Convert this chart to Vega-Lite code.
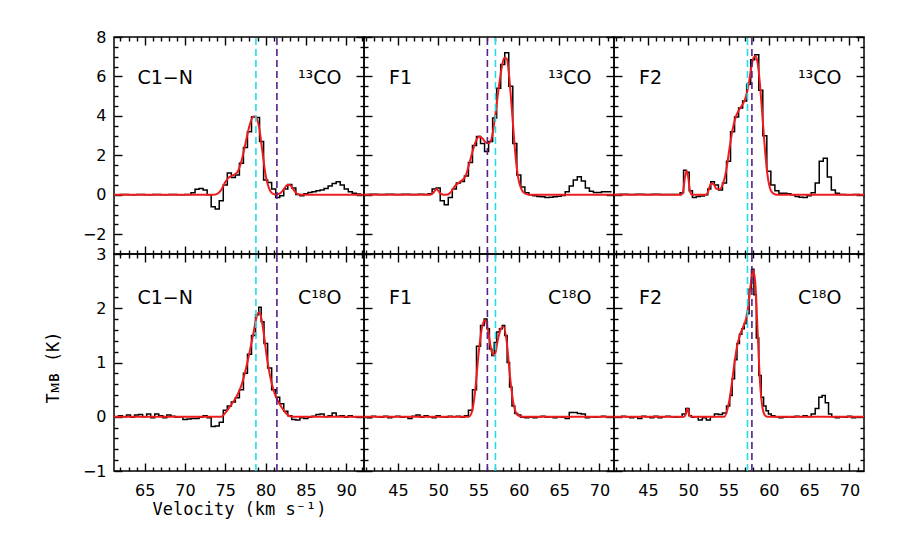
{
"$schema": "https://vega.github.io/schema/vega-lite/v6.json",
"background": "white",
"padding": {"left": 43, "top": 28, "right": 5, "bottom": 5},
"config": {
  "view": {"stroke": "black", "strokeWidth": 1.5},
  "font": "DejaVu Sans",
  "axis": {"domain": false, "grid": false, "tickColor": "black", "tickWidth": 1.4, "labelColor": "black", "labelFont": "DejaVu Sans", "labelFontSize": 16, "titleFont": "DejaVu Sans Mono", "titleFontSize": 17, "titleFontWeight": "normal", "titleColor": "black"}
},
"datasets": {
"obs": [
{"p":1,"v":61.5,"t":0.0},{"p":1,"v":62.5,"t":0.02},{"p":1,"v":63.5,"t":0.0},{"p":1,"v":64.5,"t":0.02},{"p":1,"v":65.5,"t":0.0},{"p":1,"v":66.5,"t":0.01},{"p":1,"v":67.5,"t":0.0},{"p":1,"v":68.5,"t":0.02},{"p":1,"v":69.5,"t":0.0},{"p":1,"v":70.5,"t":0.02},{"p":1,"v":71,"t":0.1},{"p":1,"v":71.5,"t":0.28},{"p":1,"v":72,"t":0.32},{"p":1,"v":72.5,"t":0.25},{"p":1,"v":73,"t":0.0},{"p":1,"v":73.5,"t":-0.6},{"p":1,"v":74,"t":-0.72},{"p":1,"v":74.5,"t":-0.3},{"p":1,"v":75,"t":0.5},{"p":1,"v":75.5,"t":1.1},{"p":1,"v":76,"t":0.88},{"p":1,"v":76.5,"t":1.0},{"p":1,"v":77,"t":1.6},{"p":1,"v":77.5,"t":2.4},{"p":1,"v":78,"t":3.2},{"p":1,"v":78.5,"t":3.95},{"p":1,"v":79,"t":3.92},{"p":1,"v":79.5,"t":2.7},{"p":1,"v":80,"t":0.75},{"p":1,"v":80.5,"t":0.62},{"p":1,"v":81,"t":0.3},{"p":1,"v":81.5,"t":-0.14},{"p":1,"v":82,"t":-0.05},{"p":1,"v":82.5,"t":0.3},{"p":1,"v":83,"t":0.52},{"p":1,"v":83.5,"t":0.35},{"p":1,"v":84,"t":0.02},{"p":1,"v":84.5,"t":-0.05},{"p":1,"v":85,"t":0.05},{"p":1,"v":85.5,"t":0.12},{"p":1,"v":86,"t":0.15},{"p":1,"v":86.5,"t":0.2},{"p":1,"v":87,"t":0.25},{"p":1,"v":87.5,"t":0.32},{"p":1,"v":88,"t":0.45},{"p":1,"v":88.5,"t":0.58},{"p":1,"v":89,"t":0.66},{"p":1,"v":89.5,"t":0.5},{"p":1,"v":90,"t":0.3},{"p":1,"v":90.5,"t":0.15},{"p":1,"v":91,"t":0.08},{"p":1,"v":91.5,"t":0.04},{"p":1,"v":92,"t":0.0},
{"p":2,"v":41,"t":0.02},{"p":2,"v":42,"t":0.03},{"p":2,"v":43,"t":0.02},{"p":2,"v":44,"t":0.03},{"p":2,"v":45,"t":0.02},{"p":2,"v":46,"t":0.03},{"p":2,"v":47,"t":0.02},{"p":2,"v":48,"t":0.03},{"p":2,"v":48.5,"t":0.02},{"p":2,"v":49,"t":0.05},{"p":2,"v":49.5,"t":0.3},{"p":2,"v":50,"t":0.35},{"p":2,"v":50.5,"t":-0.3},{"p":2,"v":51,"t":-0.5},{"p":2,"v":51.5,"t":-0.13},{"p":2,"v":52,"t":0.29},{"p":2,"v":52.5,"t":0.6},{"p":2,"v":53,"t":0.68},{"p":2,"v":53.5,"t":0.96},{"p":2,"v":54,"t":1.64},{"p":2,"v":54.5,"t":2.5},{"p":2,"v":55,"t":2.96},{"p":2,"v":55.5,"t":2.6},{"p":2,"v":56,"t":2.2},{"p":2,"v":56.5,"t":2.7},{"p":2,"v":57,"t":3.9},{"p":2,"v":57.5,"t":5.4},{"p":2,"v":58,"t":6.6},{"p":2,"v":58.5,"t":7.2},{"p":2,"v":59,"t":5.5},{"p":2,"v":59.5,"t":2.6},{"p":2,"v":60,"t":1.0},{"p":2,"v":60.5,"t":0.4},{"p":2,"v":61,"t":0.1},{"p":2,"v":61.5,"t":0.0},{"p":2,"v":62,"t":-0.05},{"p":2,"v":62.5,"t":-0.08},{"p":2,"v":63,"t":-0.1},{"p":2,"v":63.5,"t":-0.13},{"p":2,"v":64,"t":-0.12},{"p":2,"v":64.5,"t":-0.1},{"p":2,"v":65,"t":-0.07},{"p":2,"v":65.5,"t":-0.03},{"p":2,"v":66,"t":0.15},{"p":2,"v":66.5,"t":0.45},{"p":2,"v":67,"t":0.75},{"p":2,"v":67.5,"t":0.92},{"p":2,"v":68,"t":0.7},{"p":2,"v":68.5,"t":0.35},{"p":2,"v":69,"t":0.18},{"p":2,"v":69.5,"t":0.12},{"p":2,"v":70,"t":0.12},{"p":2,"v":70.5,"t":0.15},{"p":2,"v":71,"t":0.16},{"p":2,"v":71.5,"t":0.15},
{"p":3,"v":41,"t":0.02},{"p":3,"v":42,"t":0.03},{"p":3,"v":43,"t":0.02},{"p":3,"v":44,"t":0.03},{"p":3,"v":45,"t":0.02},{"p":3,"v":46,"t":0.03},{"p":3,"v":47,"t":0.02},{"p":3,"v":48,"t":0.02},{"p":3,"v":48.75,"t":0.02},{"p":3,"v":49.25,"t":0.1},{"p":3,"v":49.6,"t":1.25},{"p":3,"v":49.95,"t":1.15},{"p":3,"v":50.3,"t":0.2},{"p":3,"v":50.75,"t":-0.13},{"p":3,"v":51.25,"t":-0.08},{"p":3,"v":51.75,"t":-0.06},{"p":3,"v":52.25,"t":0.0},{"p":3,"v":52.6,"t":0.3},{"p":3,"v":53,"t":0.66},{"p":3,"v":53.5,"t":0.5},{"p":3,"v":54,"t":0.25},{"p":3,"v":54.5,"t":0.6},{"p":3,"v":55,"t":1.7},{"p":3,"v":55.5,"t":3.2},{"p":3,"v":56,"t":3.95},{"p":3,"v":56.5,"t":4.4},{"p":3,"v":57,"t":4.76},{"p":3,"v":57.5,"t":5.6},{"p":3,"v":58,"t":6.85},{"p":3,"v":58.5,"t":7.1},{"p":3,"v":59,"t":5.3},{"p":3,"v":59.5,"t":3.0},{"p":3,"v":60,"t":1.2},{"p":3,"v":60.5,"t":0.5},{"p":3,"v":61,"t":0.2},{"p":3,"v":61.5,"t":0.08},{"p":3,"v":62,"t":0.08},{"p":3,"v":62.5,"t":0.06},{"p":3,"v":63,"t":0.0},{"p":3,"v":63.5,"t":-0.08},{"p":3,"v":64,"t":-0.12},{"p":3,"v":64.5,"t":-0.13},{"p":3,"v":65,"t":-0.05},{"p":3,"v":65.5,"t":0.1},{"p":3,"v":66,"t":0.6},{"p":3,"v":66.5,"t":1.7},{"p":3,"v":67,"t":1.85},{"p":3,"v":67.5,"t":0.9},{"p":3,"v":68,"t":0.25},{"p":3,"v":68.5,"t":0.08},{"p":3,"v":69,"t":0.02},{"p":3,"v":70,"t":0.0},{"p":3,"v":71,"t":0.01},{"p":3,"v":71.5,"t":0.0},
{"p":4,"v":61.0,"t":0.01},{"p":4,"v":61.5,"t":-0.01},{"p":4,"v":62.0,"t":0.02},{"p":4,"v":62.5,"t":0.0},{"p":4,"v":63.0,"t":0.03},{"p":4,"v":63.5,"t":-0.01},{"p":4,"v":64.0,"t":0.03},{"p":4,"v":64.5,"t":0.04},{"p":4,"v":65.0,"t":0.0},{"p":4,"v":65.5,"t":0.05},{"p":4,"v":66.0,"t":-0.02},{"p":4,"v":66.5,"t":0.05},{"p":4,"v":67.0,"t":0.02},{"p":4,"v":67.5,"t":-0.02},{"p":4,"v":68.0,"t":0.03},{"p":4,"v":68.5,"t":0.01},{"p":4,"v":69.0,"t":-0.01},{"p":4,"v":69.5,"t":0.0},{"p":4,"v":70.0,"t":-0.05},{"p":4,"v":70.5,"t":-0.04},{"p":4,"v":71.0,"t":-0.03},{"p":4,"v":71.5,"t":-0.03},{"p":4,"v":72.0,"t":-0.01},{"p":4,"v":72.5,"t":0.02},{"p":4,"v":73.0,"t":-0.02},{"p":4,"v":73.5,"t":-0.18},{"p":4,"v":74.0,"t":-0.17},{"p":4,"v":74.5,"t":-0.1},{"p":4,"v":75.0,"t":0.12},{"p":4,"v":75.5,"t":0.2},{"p":4,"v":76.0,"t":0.27},{"p":4,"v":76.5,"t":0.35},{"p":4,"v":77.0,"t":0.5},{"p":4,"v":77.5,"t":0.8},{"p":4,"v":78.0,"t":1.15},{"p":4,"v":78.5,"t":1.5},{"p":4,"v":79.0,"t":1.88},{"p":4,"v":79.3,"t":2.02},{"p":4,"v":79.6,"t":1.75},{"p":4,"v":80.0,"t":1.35},{"p":4,"v":80.5,"t":0.9},{"p":4,"v":81.0,"t":0.5},{"p":4,"v":81.5,"t":0.36},{"p":4,"v":82.0,"t":0.24},{"p":4,"v":82.5,"t":0.1},{"p":4,"v":83.0,"t":0.02},{"p":4,"v":83.5,"t":-0.05},{"p":4,"v":84.0,"t":-0.06},{"p":4,"v":84.5,"t":-0.02},{"p":4,"v":85.0,"t":-0.03},{"p":4,"v":85.5,"t":-0.01},{"p":4,"v":86.0,"t":0.01},{"p":4,"v":86.5,"t":0.04},{"p":4,"v":87.0,"t":0.05},{"p":4,"v":87.5,"t":0.0},{"p":4,"v":88.0,"t":0.02},{"p":4,"v":88.5,"t":0.07},{"p":4,"v":89.0,"t":0.01},{"p":4,"v":89.5,"t":0.02},{"p":4,"v":90.0,"t":-0.01},{"p":4,"v":90.5,"t":0.02},{"p":4,"v":91.0,"t":0.0},{"p":4,"v":91.5,"t":-0.01},{"p":4,"v":92.0,"t":0.0},
{"p":5,"v":41.0,"t":0.0},{"p":5,"v":41.5,"t":-0.02},{"p":5,"v":42.0,"t":0.01},{"p":5,"v":42.5,"t":0.0},{"p":5,"v":43.0,"t":-0.01},{"p":5,"v":43.5,"t":0.01},{"p":5,"v":44.0,"t":-0.02},{"p":5,"v":44.5,"t":0.0},{"p":5,"v":45.0,"t":0.01},{"p":5,"v":45.5,"t":-0.01},{"p":5,"v":46.0,"t":0.0},{"p":5,"v":46.5,"t":-0.03},{"p":5,"v":47.0,"t":0.01},{"p":5,"v":47.5,"t":0.03},{"p":5,"v":48.0,"t":-0.01},{"p":5,"v":48.5,"t":0.02},{"p":5,"v":49.0,"t":0.0},{"p":5,"v":49.5,"t":-0.02},{"p":5,"v":50.0,"t":0.02},{"p":5,"v":50.5,"t":0.0},{"p":5,"v":51.0,"t":-0.01},{"p":5,"v":51.5,"t":0.01},{"p":5,"v":52.0,"t":0.0},{"p":5,"v":52.5,"t":0.01},{"p":5,"v":53.0,"t":-0.01},{"p":5,"v":53.5,"t":0.02},{"p":5,"v":54.0,"t":0.12},{"p":5,"v":54.5,"t":0.5},{"p":5,"v":55.0,"t":1.3},{"p":5,"v":55.5,"t":1.68},{"p":5,"v":55.9,"t":1.8},{"p":5,"v":56.2,"t":1.62},{"p":5,"v":56.5,"t":1.25},{"p":5,"v":56.8,"t":1.13},{"p":5,"v":57.1,"t":1.37},{"p":5,"v":57.4,"t":1.56},{"p":5,"v":57.8,"t":1.62},{"p":5,"v":58.1,"t":1.68},{"p":5,"v":58.4,"t":1.5},{"p":5,"v":58.7,"t":1.0},{"p":5,"v":59.0,"t":0.55},{"p":5,"v":59.3,"t":0.2},{"p":5,"v":59.7,"t":0.06},{"p":5,"v":60.0,"t":0.03},{"p":5,"v":60.5,"t":-0.01},{"p":5,"v":61.0,"t":-0.02},{"p":5,"v":61.5,"t":-0.01},{"p":5,"v":62.0,"t":-0.02},{"p":5,"v":62.5,"t":0.0},{"p":5,"v":63.0,"t":0.01},{"p":5,"v":63.5,"t":-0.01},{"p":5,"v":64.0,"t":0.0},{"p":5,"v":64.5,"t":-0.02},{"p":5,"v":65.0,"t":0.0},{"p":5,"v":65.5,"t":-0.01},{"p":5,"v":66.0,"t":-0.03},{"p":5,"v":66.5,"t":0.08},{"p":5,"v":67.0,"t":0.08},{"p":5,"v":67.5,"t":0.06},{"p":5,"v":68.0,"t":0.05},{"p":5,"v":68.5,"t":-0.02},{"p":5,"v":69.0,"t":0.0},{"p":5,"v":69.5,"t":-0.01},{"p":5,"v":70.0,"t":0.0},{"p":5,"v":70.5,"t":0.01},{"p":5,"v":71.0,"t":0.0},{"p":5,"v":71.5,"t":0.0},
{"p":6,"v":41.0,"t":0.0},{"p":6,"v":41.5,"t":-0.01},{"p":6,"v":42.0,"t":0.01},{"p":6,"v":42.5,"t":0.0},{"p":6,"v":43.0,"t":-0.02},{"p":6,"v":43.5,"t":0.0},{"p":6,"v":44.0,"t":-0.03},{"p":6,"v":44.5,"t":0.01},{"p":6,"v":45.0,"t":0.0},{"p":6,"v":45.5,"t":-0.02},{"p":6,"v":46.0,"t":0.01},{"p":6,"v":46.5,"t":-0.02},{"p":6,"v":47.0,"t":0.0},{"p":6,"v":47.5,"t":0.01},{"p":6,"v":48.0,"t":0.0},{"p":6,"v":48.5,"t":-0.01},{"p":6,"v":49.0,"t":0.0},{"p":6,"v":49.5,"t":0.05},{"p":6,"v":49.9,"t":0.15},{"p":6,"v":50.3,"t":0.02},{"p":6,"v":50.5,"t":-0.01},{"p":6,"v":51.0,"t":0.0},{"p":6,"v":51.5,"t":-0.06},{"p":6,"v":52.0,"t":-0.02},{"p":6,"v":52.5,"t":-0.06},{"p":6,"v":53.0,"t":0.0},{"p":6,"v":53.5,"t":0.05},{"p":6,"v":54.0,"t":0.04},{"p":6,"v":54.5,"t":0.07},{"p":6,"v":55.0,"t":0.2},{"p":6,"v":55.3,"t":0.39},{"p":6,"v":55.6,"t":0.7},{"p":6,"v":55.9,"t":1.05},{"p":6,"v":56.2,"t":1.35},{"p":6,"v":56.5,"t":1.52},{"p":6,"v":56.8,"t":1.62},{"p":6,"v":57.1,"t":1.72},{"p":6,"v":57.4,"t":1.9},{"p":6,"v":57.7,"t":2.35},{"p":6,"v":58.0,"t":2.72},{"p":6,"v":58.3,"t":2.25},{"p":6,"v":58.6,"t":1.45},{"p":6,"v":58.9,"t":0.76},{"p":6,"v":59.2,"t":0.36},{"p":6,"v":59.5,"t":0.2},{"p":6,"v":59.8,"t":0.11},{"p":6,"v":60.1,"t":0.05},{"p":6,"v":60.5,"t":0.02},{"p":6,"v":61.0,"t":0.0},{"p":6,"v":61.5,"t":-0.02},{"p":6,"v":62.0,"t":-0.01},{"p":6,"v":62.5,"t":0.0},{"p":6,"v":63.0,"t":-0.01},{"p":6,"v":63.5,"t":0.01},{"p":6,"v":64.0,"t":0.0},{"p":6,"v":64.5,"t":0.02},{"p":6,"v":65.0,"t":0.0},{"p":6,"v":65.5,"t":0.05},{"p":6,"v":66.0,"t":0.15},{"p":6,"v":66.4,"t":0.36},{"p":6,"v":66.8,"t":0.39},{"p":6,"v":67.2,"t":0.26},{"p":6,"v":67.6,"t":0.05},{"p":6,"v":68.0,"t":0.0},{"p":6,"v":68.5,"t":-0.02},{"p":6,"v":69.0,"t":0.0},{"p":6,"v":69.5,"t":-0.01},{"p":6,"v":70.0,"t":0.01},{"p":6,"v":70.5,"t":-0.02},{"p":6,"v":71.0,"t":0.0},{"p":6,"v":71.5,"t":0.0}
],
"fit": [
{"p":1,"v":61.2,"t":0},{"p":1,"v":73.5,"t":0},{"p":1,"v":74.0,"t":0.05},{"p":1,"v":74.5,"t":0.25},{"p":1,"v":75.0,"t":0.65},{"p":1,"v":75.5,"t":0.9},{"p":1,"v":76.0,"t":1.0},{"p":1,"v":76.5,"t":1.15},{"p":1,"v":77.0,"t":1.7},{"p":1,"v":77.5,"t":2.6},{"p":1,"v":78.0,"t":3.5},{"p":1,"v":78.5,"t":3.97},{"p":1,"v":78.8,"t":3.95},{"p":1,"v":79.2,"t":3.4},{"p":1,"v":79.6,"t":2.2},{"p":1,"v":80.0,"t":1.0},{"p":1,"v":80.4,"t":0.35},{"p":1,"v":80.8,"t":0.08},{"p":1,"v":81.2,"t":0.02},{"p":1,"v":81.7,"t":0.05},{"p":1,"v":82.2,"t":0.25},{"p":1,"v":82.7,"t":0.5},{"p":1,"v":83.0,"t":0.5},{"p":1,"v":83.4,"t":0.3},{"p":1,"v":83.8,"t":0.08},{"p":1,"v":84.3,"t":0},{"p":1,"v":92.2,"t":0},
{"p":2,"v":40.8,"t":0},{"p":2,"v":49.0,"t":0},{"p":2,"v":49.4,"t":0.1},{"p":2,"v":49.8,"t":0.3},{"p":2,"v":50.2,"t":0.1},{"p":2,"v":50.6,"t":0},{"p":2,"v":51.2,"t":0.02},{"p":2,"v":51.6,"t":0.15},{"p":2,"v":52.0,"t":0.4},{"p":2,"v":52.5,"t":0.6},{"p":2,"v":53.0,"t":0.75},{"p":2,"v":53.4,"t":0.95},{"p":2,"v":53.8,"t":1.5},{"p":2,"v":54.2,"t":2.1},{"p":2,"v":54.7,"t":2.75},{"p":2,"v":55.1,"t":2.95},{"p":2,"v":55.5,"t":2.85},{"p":2,"v":55.9,"t":2.65},{"p":2,"v":56.3,"t":2.62},{"p":2,"v":56.7,"t":3.0},{"p":2,"v":57.1,"t":4.1},{"p":2,"v":57.5,"t":5.4},{"p":2,"v":57.9,"t":6.5},{"p":2,"v":58.2,"t":6.95},{"p":2,"v":58.5,"t":6.9},{"p":2,"v":58.8,"t":6.0},{"p":2,"v":59.1,"t":4.5},{"p":2,"v":59.4,"t":2.9},{"p":2,"v":59.7,"t":1.5},{"p":2,"v":60.0,"t":0.7},{"p":2,"v":60.3,"t":0.3},{"p":2,"v":60.7,"t":0.08},{"p":2,"v":61.2,"t":0.01},{"p":2,"v":61.7,"t":0},{"p":2,"v":71.9,"t":0},
{"p":3,"v":40.8,"t":0},{"p":3,"v":49.1,"t":0},{"p":3,"v":49.35,"t":0.15},{"p":3,"v":49.6,"t":0.9},{"p":3,"v":49.8,"t":1.22},{"p":3,"v":50.0,"t":0.9},{"p":3,"v":50.25,"t":0.15},{"p":3,"v":50.5,"t":0},{"p":3,"v":52.2,"t":0},{"p":3,"v":52.5,"t":0.2},{"p":3,"v":52.8,"t":0.55},{"p":3,"v":53.1,"t":0.58},{"p":3,"v":53.5,"t":0.3},{"p":3,"v":53.9,"t":0.28},{"p":3,"v":54.3,"t":0.55},{"p":3,"v":54.7,"t":1.2},{"p":3,"v":55.1,"t":2.3},{"p":3,"v":55.5,"t":3.3},{"p":3,"v":55.9,"t":3.95},{"p":3,"v":56.3,"t":4.3},{"p":3,"v":56.7,"t":4.55},{"p":3,"v":57.1,"t":4.9},{"p":3,"v":57.5,"t":5.6},{"p":3,"v":57.8,"t":6.4},{"p":3,"v":58.1,"t":6.95},{"p":3,"v":58.35,"t":7.05},{"p":3,"v":58.6,"t":6.7},{"p":3,"v":58.9,"t":5.6},{"p":3,"v":59.2,"t":4.0},{"p":3,"v":59.5,"t":2.4},{"p":3,"v":59.8,"t":1.1},{"p":3,"v":60.1,"t":0.4},{"p":3,"v":60.4,"t":0.12},{"p":3,"v":60.8,"t":0.02},{"p":3,"v":61.2,"t":0},{"p":3,"v":71.9,"t":0},
{"p":4,"v":61.2,"t":0},{"p":4,"v":74.5,"t":0},{"p":4,"v":75.0,"t":0.07},{"p":4,"v":75.5,"t":0.17},{"p":4,"v":76.0,"t":0.28},{"p":4,"v":76.5,"t":0.4},{"p":4,"v":77.0,"t":0.58},{"p":4,"v":77.5,"t":0.85},{"p":4,"v":78.0,"t":1.18},{"p":4,"v":78.5,"t":1.55},{"p":4,"v":78.9,"t":1.85},{"p":4,"v":79.2,"t":1.93},{"p":4,"v":79.5,"t":1.8},{"p":4,"v":79.8,"t":1.5},{"p":4,"v":80.2,"t":1.05},{"p":4,"v":80.6,"t":0.72},{"p":4,"v":81.0,"t":0.48},{"p":4,"v":81.5,"t":0.3},{"p":4,"v":82.0,"t":0.17},{"p":4,"v":82.5,"t":0.07},{"p":4,"v":83.0,"t":0.01},{"p":4,"v":83.5,"t":0},{"p":4,"v":92.2,"t":0},
{"p":5,"v":40.8,"t":0},{"p":5,"v":53.8,"t":0},{"p":5,"v":54.2,"t":0.1},{"p":5,"v":54.6,"t":0.5},{"p":5,"v":55.0,"t":1.15},{"p":5,"v":55.4,"t":1.62},{"p":5,"v":55.8,"t":1.78},{"p":5,"v":56.2,"t":1.58},{"p":5,"v":56.6,"t":1.22},{"p":5,"v":57.0,"t":1.13},{"p":5,"v":57.4,"t":1.42},{"p":5,"v":57.8,"t":1.63},{"p":5,"v":58.1,"t":1.66},{"p":5,"v":58.5,"t":1.38},{"p":5,"v":58.9,"t":0.75},{"p":5,"v":59.3,"t":0.27},{"p":5,"v":59.7,"t":0.06},{"p":5,"v":60.1,"t":0.01},{"p":5,"v":60.5,"t":0},{"p":5,"v":71.9,"t":0},
{"p":6,"v":40.8,"t":0},{"p":6,"v":49.5,"t":0},{"p":6,"v":49.7,"t":0.05},{"p":6,"v":49.9,"t":0.15},{"p":6,"v":50.1,"t":0.05},{"p":6,"v":50.4,"t":0},{"p":6,"v":54.5,"t":0},{"p":6,"v":54.8,"t":0.1},{"p":6,"v":55.1,"t":0.3},{"p":6,"v":55.4,"t":0.6},{"p":6,"v":55.7,"t":0.95},{"p":6,"v":56.0,"t":1.25},{"p":6,"v":56.4,"t":1.5},{"p":6,"v":56.8,"t":1.65},{"p":6,"v":57.2,"t":1.82},{"p":6,"v":57.5,"t":2.1},{"p":6,"v":57.8,"t":2.5},{"p":6,"v":58.05,"t":2.7},{"p":6,"v":58.3,"t":2.5},{"p":6,"v":58.6,"t":1.6},{"p":6,"v":58.9,"t":0.65},{"p":6,"v":59.2,"t":0.18},{"p":6,"v":59.5,"t":0.03},{"p":6,"v":59.8,"t":0},{"p":6,"v":71.9,"t":0}
],
"vl": [
{"p":1,"v":78.8,"c":"cyan"},{"p":1,"v":81.4,"c":"purple"},
{"p":2,"v":57.1,"c":"cyan"},{"p":2,"v":56.1,"c":"purple"},
{"p":3,"v":57.35,"c":"cyan"},{"p":3,"v":57.9,"c":"purple"},
{"p":4,"v":78.8,"c":"cyan"},{"p":4,"v":81.4,"c":"purple"},
{"p":5,"v":57.1,"c":"cyan"},{"p":5,"v":56.1,"c":"purple"},
{"p":6,"v":57.35,"c":"cyan"},{"p":6,"v":57.9,"c":"purple"}
],
"lab": [
{"p":1,"v":64.1,"t":5.9,"txt":"C1−N","side":"L"},{"p":1,"v":89.4,"t":5.9,"txt":"¹³CO","side":"R"},
{"p":2,"v":43.9,"t":5.9,"txt":"F1","side":"L"},{"p":2,"v":69.0,"t":5.9,"txt":"¹³CO","side":"R"},
{"p":3,"v":43.9,"t":5.9,"txt":"F2","side":"L"},{"p":3,"v":69.0,"t":5.9,"txt":"¹³CO","side":"R"},
{"p":4,"v":64.1,"t":2.18,"txt":"C1−N","side":"L"},{"p":4,"v":89.4,"t":2.18,"txt":"C¹⁸O","side":"R"},
{"p":5,"v":43.9,"t":2.18,"txt":"F1","side":"L"},{"p":5,"v":69.0,"t":2.18,"txt":"C¹⁸O","side":"R"},
{"p":6,"v":43.9,"t":2.18,"txt":"F2","side":"L"},{"p":6,"v":69.0,"t":2.18,"txt":"C¹⁸O","side":"R"}
]
},
"columns": 3,
"spacing": 0,
"bounds": "flush",
"concat": [
{"width":250,"height":217,"resolve":{"axis":{"x":"independent","y":"independent"}},"layer":[
 {"data":{"name":"obs"},"transform":[{"filter":"datum.p==1"}],"mark":{"type":"line","interpolate":"step","color":"black","strokeWidth":1.5,"clip":true},
  "encoding":{"x":{"field":"v","type":"quantitative","scale":{"domain":[61.2,92.2],"nice":false,"zero":false},"axis":{"orient":"bottom","values":[65,70,75,80,85,90],"tickSize":-8,"labels":false,"title":null}},
   "y":{"field":"t","type":"quantitative","scale":{"domain":[-3,8],"nice":false,"zero":false},"axis":{"orient":"left","values":[-2,0,2,4,6,8],"tickSize":-8,"labelPadding":16,"title":null}}}},
 {"data":{"name":"fit"},"transform":[{"filter":"datum.p==1"}],"mark":{"type":"line","interpolate":"monotone","color":"#ee1c1c","strokeWidth":2,"clip":true},
  "encoding":{"x":{"field":"v","type":"quantitative","scale":{"domain":[61.2,92.2],"nice":false,"zero":false},"axis":{"orient":"top","values":[65,70,75,80,85,90],"tickSize":-8,"labels":false,"title":null}},
   "y":{"field":"t","type":"quantitative","scale":{"domain":[-3,8],"nice":false,"zero":false},"axis":{"orient":"right","values":[-2,0,2,4,6,8],"tickSize":-8,"labels":false,"title":null}}}},
 {"data":{"name":"vl"},"transform":[{"filter":"datum.p==1 && datum.c=='cyan'"}],"mark":{"type":"rule","color":"#22dde8","strokeDash":[7,4],"strokeWidth":1.6},
  "encoding":{"x":{"field":"v","type":"quantitative","scale":{"domain":[61.2,92.2],"nice":false,"zero":false},"axis":{"orient":"bottom","values":[62,63,64,66,67,68,69,71,72,73,74,76,77,78,79,81,82,83,84,86,87,88,89,91,92],"tickSize":-4,"labels":false,"title":null}},
   "y":{"datum":-3,"type":"quantitative","axis":null},"y2":{"datum":8}}},
 {"data":{"name":"vl"},"transform":[{"filter":"datum.p==1 && datum.c=='purple'"}],"mark":{"type":"rule","color":"#55208a","strokeDash":[7,4],"strokeWidth":1.6},
  "encoding":{"x":{"field":"v","type":"quantitative","scale":{"domain":[61.2,92.2],"nice":false,"zero":false},"axis":{"orient":"top","values":[62,63,64,66,67,68,69,71,72,73,74,76,77,78,79,81,82,83,84,86,87,88,89,91,92],"tickSize":-4,"labels":false,"title":null}},
   "y":{"datum":-3,"type":"quantitative","axis":null},"y2":{"datum":8}}},
 {"data":{"name":"lab"},"transform":[{"filter":"datum.p==1 && datum.side=='L'"}],"mark":{"type":"text","align":"left","baseline":"middle","fontSize":19,"font":"DejaVu Sans","color":"black"},
  "encoding":{"x":{"field":"v","type":"quantitative","scale":{"domain":[61.2,92.2],"nice":false,"zero":false},"axis":null},
   "y":{"field":"t","type":"quantitative","scale":{"domain":[-3,8],"nice":false,"zero":false},"axis":{"orient":"left","values":[-2.5,-1.5,-1,-0.5,0.5,1,1.5,2.5,3,3.5,4.5,5,5.5,6.5,7,7.5],"tickSize":-4,"labels":false,"title":null}},"text":{"field":"txt"}}},
 {"data":{"name":"lab"},"transform":[{"filter":"datum.p==1 && datum.side=='R'"}],"mark":{"type":"text","align":"right","baseline":"middle","fontSize":19,"font":"DejaVu Sans","color":"black"},
  "encoding":{"x":{"field":"v","type":"quantitative","scale":{"domain":[61.2,92.2],"nice":false,"zero":false},"axis":null},
   "y":{"field":"t","type":"quantitative","scale":{"domain":[-3,8],"nice":false,"zero":false},"axis":{"orient":"right","values":[-2.5,-1.5,-1,-0.5,0.5,1,1.5,2.5,3,3.5,4.5,5,5.5,6.5,7,7.5],"tickSize":-4,"labels":false,"title":null}},"text":{"field":"txt"}}}
]},
{"width":250,"height":217,"resolve":{"axis":{"x":"independent","y":"independent"}},"layer":[
 {"data":{"name":"obs"},"transform":[{"filter":"datum.p==2"}],"mark":{"type":"line","interpolate":"step","color":"black","strokeWidth":1.5,"clip":true},
  "encoding":{"x":{"field":"v","type":"quantitative","scale":{"domain":[40.8,71.8],"nice":false,"zero":false},"axis":{"orient":"bottom","values":[45,50,55,60,65,70],"tickSize":-8,"labels":false,"title":null}},
   "y":{"field":"t","type":"quantitative","scale":{"domain":[-3,8],"nice":false,"zero":false},"axis":{"orient":"left","values":[-2,0,2,4,6,8],"tickSize":-8,"labels":false,"title":null}}}},
 {"data":{"name":"fit"},"transform":[{"filter":"datum.p==2"}],"mark":{"type":"line","interpolate":"monotone","color":"#ee1c1c","strokeWidth":2,"clip":true},
  "encoding":{"x":{"field":"v","type":"quantitative","scale":{"domain":[40.8,71.8],"nice":false,"zero":false},"axis":{"orient":"top","values":[45,50,55,60,65,70],"tickSize":-8,"labels":false,"title":null}},
   "y":{"field":"t","type":"quantitative","scale":{"domain":[-3,8],"nice":false,"zero":false},"axis":{"orient":"right","values":[-2,0,2,4,6,8],"tickSize":-8,"labels":false,"title":null}}}},
 {"data":{"name":"vl"},"transform":[{"filter":"datum.p==2 && datum.c=='cyan'"}],"mark":{"type":"rule","color":"#22dde8","strokeDash":[7,4],"strokeWidth":1.6},
  "encoding":{"x":{"field":"v","type":"quantitative","scale":{"domain":[40.8,71.8],"nice":false,"zero":false},"axis":{"orient":"bottom","values":[41,42,43,44,46,47,48,49,51,52,53,54,56,57,58,59,61,62,63,64,66,67,68,69,71],"tickSize":-4,"labels":false,"title":null}},
   "y":{"datum":-3,"type":"quantitative","axis":null},"y2":{"datum":8}}},
 {"data":{"name":"vl"},"transform":[{"filter":"datum.p==2 && datum.c=='purple'"}],"mark":{"type":"rule","color":"#55208a","strokeDash":[7,4],"strokeWidth":1.6},
  "encoding":{"x":{"field":"v","type":"quantitative","scale":{"domain":[40.8,71.8],"nice":false,"zero":false},"axis":{"orient":"top","values":[41,42,43,44,46,47,48,49,51,52,53,54,56,57,58,59,61,62,63,64,66,67,68,69,71],"tickSize":-4,"labels":false,"title":null}},
   "y":{"datum":-3,"type":"quantitative","axis":null},"y2":{"datum":8}}},
 {"data":{"name":"lab"},"transform":[{"filter":"datum.p==2 && datum.side=='L'"}],"mark":{"type":"text","align":"left","baseline":"middle","fontSize":19,"font":"DejaVu Sans","color":"black"},
  "encoding":{"x":{"field":"v","type":"quantitative","scale":{"domain":[40.8,71.8],"nice":false,"zero":false},"axis":null},
   "y":{"field":"t","type":"quantitative","scale":{"domain":[-3,8],"nice":false,"zero":false},"axis":{"orient":"left","values":[-2.5,-1.5,-1,-0.5,0.5,1,1.5,2.5,3,3.5,4.5,5,5.5,6.5,7,7.5],"tickSize":-4,"labels":false,"title":null}},"text":{"field":"txt"}}},
 {"data":{"name":"lab"},"transform":[{"filter":"datum.p==2 && datum.side=='R'"}],"mark":{"type":"text","align":"right","baseline":"middle","fontSize":19,"font":"DejaVu Sans","color":"black"},
  "encoding":{"x":{"field":"v","type":"quantitative","scale":{"domain":[40.8,71.8],"nice":false,"zero":false},"axis":null},
   "y":{"field":"t","type":"quantitative","scale":{"domain":[-3,8],"nice":false,"zero":false},"axis":{"orient":"right","values":[-2.5,-1.5,-1,-0.5,0.5,1,1.5,2.5,3,3.5,4.5,5,5.5,6.5,7,7.5],"tickSize":-4,"labels":false,"title":null}},"text":{"field":"txt"}}}
]},
{"width":250,"height":217,"resolve":{"axis":{"x":"independent","y":"independent"}},"layer":[
 {"data":{"name":"obs"},"transform":[{"filter":"datum.p==3"}],"mark":{"type":"line","interpolate":"step","color":"black","strokeWidth":1.5,"clip":true},
  "encoding":{"x":{"field":"v","type":"quantitative","scale":{"domain":[40.8,71.8],"nice":false,"zero":false},"axis":{"orient":"bottom","values":[45,50,55,60,65,70],"tickSize":-8,"labels":false,"title":null}},
   "y":{"field":"t","type":"quantitative","scale":{"domain":[-3,8],"nice":false,"zero":false},"axis":{"orient":"left","values":[-2,0,2,4,6,8],"tickSize":-8,"labels":false,"title":null}}}},
 {"data":{"name":"fit"},"transform":[{"filter":"datum.p==3"}],"mark":{"type":"line","interpolate":"monotone","color":"#ee1c1c","strokeWidth":2,"clip":true},
  "encoding":{"x":{"field":"v","type":"quantitative","scale":{"domain":[40.8,71.8],"nice":false,"zero":false},"axis":{"orient":"top","values":[45,50,55,60,65,70],"tickSize":-8,"labels":false,"title":null}},
   "y":{"field":"t","type":"quantitative","scale":{"domain":[-3,8],"nice":false,"zero":false},"axis":{"orient":"right","values":[-2,0,2,4,6,8],"tickSize":-8,"labels":false,"title":null}}}},
 {"data":{"name":"vl"},"transform":[{"filter":"datum.p==3 && datum.c=='cyan'"}],"mark":{"type":"rule","color":"#22dde8","strokeDash":[7,4],"strokeWidth":1.6},
  "encoding":{"x":{"field":"v","type":"quantitative","scale":{"domain":[40.8,71.8],"nice":false,"zero":false},"axis":{"orient":"bottom","values":[41,42,43,44,46,47,48,49,51,52,53,54,56,57,58,59,61,62,63,64,66,67,68,69,71],"tickSize":-4,"labels":false,"title":null}},
   "y":{"datum":-3,"type":"quantitative","axis":null},"y2":{"datum":8}}},
 {"data":{"name":"vl"},"transform":[{"filter":"datum.p==3 && datum.c=='purple'"}],"mark":{"type":"rule","color":"#55208a","strokeDash":[7,4],"strokeWidth":1.6},
  "encoding":{"x":{"field":"v","type":"quantitative","scale":{"domain":[40.8,71.8],"nice":false,"zero":false},"axis":{"orient":"top","values":[41,42,43,44,46,47,48,49,51,52,53,54,56,57,58,59,61,62,63,64,66,67,68,69,71],"tickSize":-4,"labels":false,"title":null}},
   "y":{"datum":-3,"type":"quantitative","axis":null},"y2":{"datum":8}}},
 {"data":{"name":"lab"},"transform":[{"filter":"datum.p==3 && datum.side=='L'"}],"mark":{"type":"text","align":"left","baseline":"middle","fontSize":19,"font":"DejaVu Sans","color":"black"},
  "encoding":{"x":{"field":"v","type":"quantitative","scale":{"domain":[40.8,71.8],"nice":false,"zero":false},"axis":null},
   "y":{"field":"t","type":"quantitative","scale":{"domain":[-3,8],"nice":false,"zero":false},"axis":{"orient":"left","values":[-2.5,-1.5,-1,-0.5,0.5,1,1.5,2.5,3,3.5,4.5,5,5.5,6.5,7,7.5],"tickSize":-4,"labels":false,"title":null}},"text":{"field":"txt"}}},
 {"data":{"name":"lab"},"transform":[{"filter":"datum.p==3 && datum.side=='R'"}],"mark":{"type":"text","align":"right","baseline":"middle","fontSize":19,"font":"DejaVu Sans","color":"black"},
  "encoding":{"x":{"field":"v","type":"quantitative","scale":{"domain":[40.8,71.8],"nice":false,"zero":false},"axis":null},
   "y":{"field":"t","type":"quantitative","scale":{"domain":[-3,8],"nice":false,"zero":false},"axis":{"orient":"right","values":[-2.5,-1.5,-1,-0.5,0.5,1,1.5,2.5,3,3.5,4.5,5,5.5,6.5,7,7.5],"tickSize":-4,"labels":false,"title":null}},"text":{"field":"txt"}}}
]},
{"width":250,"height":217,"resolve":{"axis":{"x":"independent","y":"independent"}},"layer":[
 {"data":{"name":"obs"},"transform":[{"filter":"datum.p==4"}],"mark":{"type":"line","interpolate":"step","color":"black","strokeWidth":1.5,"clip":true},
  "encoding":{"x":{"field":"v","type":"quantitative","scale":{"domain":[61.2,92.2],"nice":false,"zero":false},"axis":{"orient":"bottom","values":[65,70,75,80,85,90],"tickSize":-8,"labelPadding":19,"title":"Velocity (km s⁻¹)","titlePadding":3}},
   "y":{"field":"t","type":"quantitative","scale":{"domain":[-1,3],"nice":false,"zero":false},"axis":{"orient":"left","values":[-1,0,1,2,3],"tickSize":-8,"labelPadding":16,"title":"Tᴍʙ (K)","titleX":-52,"titleY":113}}}},
 {"data":{"name":"fit"},"transform":[{"filter":"datum.p==4"}],"mark":{"type":"line","interpolate":"monotone","color":"#ee1c1c","strokeWidth":2,"clip":true},
  "encoding":{"x":{"field":"v","type":"quantitative","scale":{"domain":[61.2,92.2],"nice":false,"zero":false},"axis":{"orient":"top","values":[65,70,75,80,85,90],"tickSize":-8,"labels":false,"title":null}},
   "y":{"field":"t","type":"quantitative","scale":{"domain":[-1,3],"nice":false,"zero":false},"axis":{"orient":"right","values":[-1,0,1,2,3],"tickSize":-8,"labels":false,"title":null}}}},
 {"data":{"name":"vl"},"transform":[{"filter":"datum.p==4 && datum.c=='cyan'"}],"mark":{"type":"rule","color":"#22dde8","strokeDash":[7,4],"strokeWidth":1.6},
  "encoding":{"x":{"field":"v","type":"quantitative","scale":{"domain":[61.2,92.2],"nice":false,"zero":false},"axis":{"orient":"bottom","values":[62,63,64,66,67,68,69,71,72,73,74,76,77,78,79,81,82,83,84,86,87,88,89,91,92],"tickSize":-4,"labels":false,"title":null}},
   "y":{"datum":-1,"type":"quantitative","axis":null},"y2":{"datum":3}}},
 {"data":{"name":"vl"},"transform":[{"filter":"datum.p==4 && datum.c=='purple'"}],"mark":{"type":"rule","color":"#55208a","strokeDash":[7,4],"strokeWidth":1.6},
  "encoding":{"x":{"field":"v","type":"quantitative","scale":{"domain":[61.2,92.2],"nice":false,"zero":false},"axis":{"orient":"top","values":[62,63,64,66,67,68,69,71,72,73,74,76,77,78,79,81,82,83,84,86,87,88,89,91,92],"tickSize":-4,"labels":false,"title":null}},
   "y":{"datum":-1,"type":"quantitative","axis":null},"y2":{"datum":3}}},
 {"data":{"name":"lab"},"transform":[{"filter":"datum.p==4 && datum.side=='L'"}],"mark":{"type":"text","align":"left","baseline":"middle","fontSize":19,"font":"DejaVu Sans","color":"black"},
  "encoding":{"x":{"field":"v","type":"quantitative","scale":{"domain":[61.2,92.2],"nice":false,"zero":false},"axis":null},
   "y":{"field":"t","type":"quantitative","scale":{"domain":[-1,3],"nice":false,"zero":false},"axis":{"orient":"left","values":[-0.8,-0.6,-0.4,-0.2,0.2,0.4,0.6,0.8,1.2,1.4,1.6,1.8,2.2,2.4,2.6,2.8],"tickSize":-4,"labels":false,"title":null}},"text":{"field":"txt"}}},
 {"data":{"name":"lab"},"transform":[{"filter":"datum.p==4 && datum.side=='R'"}],"mark":{"type":"text","align":"right","baseline":"middle","fontSize":19,"font":"DejaVu Sans","color":"black"},
  "encoding":{"x":{"field":"v","type":"quantitative","scale":{"domain":[61.2,92.2],"nice":false,"zero":false},"axis":null},
   "y":{"field":"t","type":"quantitative","scale":{"domain":[-1,3],"nice":false,"zero":false},"axis":{"orient":"right","values":[-0.8,-0.6,-0.4,-0.2,0.2,0.4,0.6,0.8,1.2,1.4,1.6,1.8,2.2,2.4,2.6,2.8],"tickSize":-4,"labels":false,"title":null}},"text":{"field":"txt"}}}
]},
{"width":250,"height":217,"resolve":{"axis":{"x":"independent","y":"independent"}},"layer":[
 {"data":{"name":"obs"},"transform":[{"filter":"datum.p==5"}],"mark":{"type":"line","interpolate":"step","color":"black","strokeWidth":1.5,"clip":true},
  "encoding":{"x":{"field":"v","type":"quantitative","scale":{"domain":[40.8,71.8],"nice":false,"zero":false},"axis":{"orient":"bottom","values":[45,50,55,60,65,70],"tickSize":-8,"labelPadding":19,"title":null}},
   "y":{"field":"t","type":"quantitative","scale":{"domain":[-1,3],"nice":false,"zero":false},"axis":{"orient":"left","values":[-1,0,1,2,3],"tickSize":-8,"labels":false,"title":null}}}},
 {"data":{"name":"fit"},"transform":[{"filter":"datum.p==5"}],"mark":{"type":"line","interpolate":"monotone","color":"#ee1c1c","strokeWidth":2,"clip":true},
  "encoding":{"x":{"field":"v","type":"quantitative","scale":{"domain":[40.8,71.8],"nice":false,"zero":false},"axis":{"orient":"top","values":[45,50,55,60,65,70],"tickSize":-8,"labels":false,"title":null}},
   "y":{"field":"t","type":"quantitative","scale":{"domain":[-1,3],"nice":false,"zero":false},"axis":{"orient":"right","values":[-1,0,1,2,3],"tickSize":-8,"labels":false,"title":null}}}},
 {"data":{"name":"vl"},"transform":[{"filter":"datum.p==5 && datum.c=='cyan'"}],"mark":{"type":"rule","color":"#22dde8","strokeDash":[7,4],"strokeWidth":1.6},
  "encoding":{"x":{"field":"v","type":"quantitative","scale":{"domain":[40.8,71.8],"nice":false,"zero":false},"axis":{"orient":"bottom","values":[41,42,43,44,46,47,48,49,51,52,53,54,56,57,58,59,61,62,63,64,66,67,68,69,71],"tickSize":-4,"labels":false,"title":null}},
   "y":{"datum":-1,"type":"quantitative","axis":null},"y2":{"datum":3}}},
 {"data":{"name":"vl"},"transform":[{"filter":"datum.p==5 && datum.c=='purple'"}],"mark":{"type":"rule","color":"#55208a","strokeDash":[7,4],"strokeWidth":1.6},
  "encoding":{"x":{"field":"v","type":"quantitative","scale":{"domain":[40.8,71.8],"nice":false,"zero":false},"axis":{"orient":"top","values":[41,42,43,44,46,47,48,49,51,52,53,54,56,57,58,59,61,62,63,64,66,67,68,69,71],"tickSize":-4,"labels":false,"title":null}},
   "y":{"datum":-1,"type":"quantitative","axis":null},"y2":{"datum":3}}},
 {"data":{"name":"lab"},"transform":[{"filter":"datum.p==5 && datum.side=='L'"}],"mark":{"type":"text","align":"left","baseline":"middle","fontSize":19,"font":"DejaVu Sans","color":"black"},
  "encoding":{"x":{"field":"v","type":"quantitative","scale":{"domain":[40.8,71.8],"nice":false,"zero":false},"axis":null},
   "y":{"field":"t","type":"quantitative","scale":{"domain":[-1,3],"nice":false,"zero":false},"axis":{"orient":"left","values":[-0.8,-0.6,-0.4,-0.2,0.2,0.4,0.6,0.8,1.2,1.4,1.6,1.8,2.2,2.4,2.6,2.8],"tickSize":-4,"labels":false,"title":null}},"text":{"field":"txt"}}},
 {"data":{"name":"lab"},"transform":[{"filter":"datum.p==5 && datum.side=='R'"}],"mark":{"type":"text","align":"right","baseline":"middle","fontSize":19,"font":"DejaVu Sans","color":"black"},
  "encoding":{"x":{"field":"v","type":"quantitative","scale":{"domain":[40.8,71.8],"nice":false,"zero":false},"axis":null},
   "y":{"field":"t","type":"quantitative","scale":{"domain":[-1,3],"nice":false,"zero":false},"axis":{"orient":"right","values":[-0.8,-0.6,-0.4,-0.2,0.2,0.4,0.6,0.8,1.2,1.4,1.6,1.8,2.2,2.4,2.6,2.8],"tickSize":-4,"labels":false,"title":null}},"text":{"field":"txt"}}}
]},
{"width":250,"height":217,"resolve":{"axis":{"x":"independent","y":"independent"}},"layer":[
 {"data":{"name":"obs"},"transform":[{"filter":"datum.p==6"}],"mark":{"type":"line","interpolate":"step","color":"black","strokeWidth":1.5,"clip":true},
  "encoding":{"x":{"field":"v","type":"quantitative","scale":{"domain":[40.8,71.8],"nice":false,"zero":false},"axis":{"orient":"bottom","values":[45,50,55,60,65,70],"tickSize":-8,"labelPadding":19,"title":null}},
   "y":{"field":"t","type":"quantitative","scale":{"domain":[-1,3],"nice":false,"zero":false},"axis":{"orient":"left","values":[-1,0,1,2,3],"tickSize":-8,"labels":false,"title":null}}}},
 {"data":{"name":"fit"},"transform":[{"filter":"datum.p==6"}],"mark":{"type":"line","interpolate":"monotone","color":"#ee1c1c","strokeWidth":2,"clip":true},
  "encoding":{"x":{"field":"v","type":"quantitative","scale":{"domain":[40.8,71.8],"nice":false,"zero":false},"axis":{"orient":"top","values":[45,50,55,60,65,70],"tickSize":-8,"labels":false,"title":null}},
   "y":{"field":"t","type":"quantitative","scale":{"domain":[-1,3],"nice":false,"zero":false},"axis":{"orient":"right","values":[-1,0,1,2,3],"tickSize":-8,"labels":false,"title":null}}}},
 {"data":{"name":"vl"},"transform":[{"filter":"datum.p==6 && datum.c=='cyan'"}],"mark":{"type":"rule","color":"#22dde8","strokeDash":[7,4],"strokeWidth":1.6},
  "encoding":{"x":{"field":"v","type":"quantitative","scale":{"domain":[40.8,71.8],"nice":false,"zero":false},"axis":{"orient":"bottom","values":[41,42,43,44,46,47,48,49,51,52,53,54,56,57,58,59,61,62,63,64,66,67,68,69,71],"tickSize":-4,"labels":false,"title":null}},
   "y":{"datum":-1,"type":"quantitative","axis":null},"y2":{"datum":3}}},
 {"data":{"name":"vl"},"transform":[{"filter":"datum.p==6 && datum.c=='purple'"}],"mark":{"type":"rule","color":"#55208a","strokeDash":[7,4],"strokeWidth":1.6},
  "encoding":{"x":{"field":"v","type":"quantitative","scale":{"domain":[40.8,71.8],"nice":false,"zero":false},"axis":{"orient":"top","values":[41,42,43,44,46,47,48,49,51,52,53,54,56,57,58,59,61,62,63,64,66,67,68,69,71],"tickSize":-4,"labels":false,"title":null}},
   "y":{"datum":-1,"type":"quantitative","axis":null},"y2":{"datum":3}}},
 {"data":{"name":"lab"},"transform":[{"filter":"datum.p==6 && datum.side=='L'"}],"mark":{"type":"text","align":"left","baseline":"middle","fontSize":19,"font":"DejaVu Sans","color":"black"},
  "encoding":{"x":{"field":"v","type":"quantitative","scale":{"domain":[40.8,71.8],"nice":false,"zero":false},"axis":null},
   "y":{"field":"t","type":"quantitative","scale":{"domain":[-1,3],"nice":false,"zero":false},"axis":{"orient":"left","values":[-0.8,-0.6,-0.4,-0.2,0.2,0.4,0.6,0.8,1.2,1.4,1.6,1.8,2.2,2.4,2.6,2.8],"tickSize":-4,"labels":false,"title":null}},"text":{"field":"txt"}}},
 {"data":{"name":"lab"},"transform":[{"filter":"datum.p==6 && datum.side=='R'"}],"mark":{"type":"text","align":"right","baseline":"middle","fontSize":19,"font":"DejaVu Sans","color":"black"},
  "encoding":{"x":{"field":"v","type":"quantitative","scale":{"domain":[40.8,71.8],"nice":false,"zero":false},"axis":null},
   "y":{"field":"t","type":"quantitative","scale":{"domain":[-1,3],"nice":false,"zero":false},"axis":{"orient":"right","values":[-0.8,-0.6,-0.4,-0.2,0.2,0.4,0.6,0.8,1.2,1.4,1.6,1.8,2.2,2.4,2.6,2.8],"tickSize":-4,"labels":false,"title":null}},"text":{"field":"txt"}}}
]}
]
}
